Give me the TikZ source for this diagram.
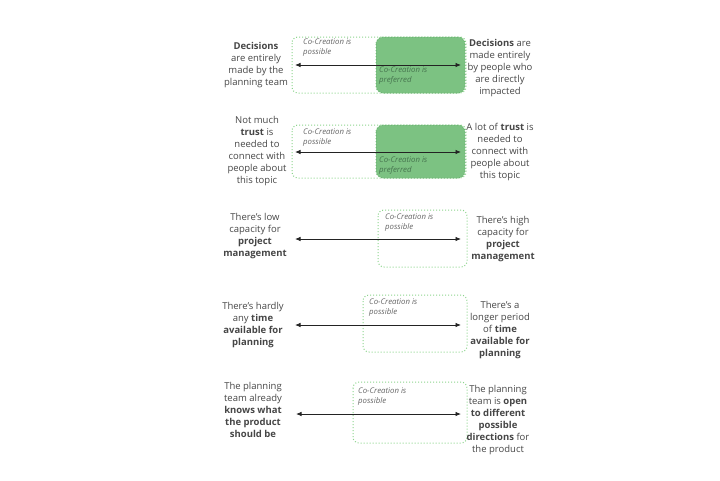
\documentclass[tikz,border=0pt]{standalone}
\usepackage{fontspec}
\setmainfont{Open Sans}
\usepackage{tikz}
\usetikzlibrary{arrows.meta, positioning}
\usepackage{xcolor}
\definecolor{colText}{RGB}{70,70,70}
\definecolor{colLabel}{RGB}{100,100,100}
\definecolor{colPrefText}{RGB}{70,115,78}
\definecolor{colGreen}{RGB}{124,194,130}
\definecolor{colGreenEdge}{RGB}{105,178,112}
\definecolor{colDots}{RGB}{140,212,140}
\definecolor{colArrow}{RGB}{35,35,35}
\tikzset{
    sidetext/.style={align=center, inner sep=0pt, text=colText,
        font=\fontsize{9.5}{12}\selectfont},
    cclabel/.style={align=left, inner sep=0pt, anchor=north west, text=colLabel,
        font=\fontsize{7.8}{10}\selectfont\itshape},
    possiblebox/.style={draw=colDots, dotted, line width=1pt, rounded corners=6pt},
    preferredbox/.style={fill=colGreen, draw=colGreenEdge, dotted, line width=1pt, rounded corners=7pt},
    scalearrow/.style={{Latex[length=5.5pt,width=4.5pt]}-{Latex[length=5.5pt,width=4.5pt]}, colArrow, line width=0.8pt}
}
\newcommand{\ccpossible}{Co-Creation is\\possible}
\newcommand{\ccpreferred}{Co-Creation is\\preferred}

\begin{document}
\begin{tikzpicture}[x=1pt, y=-1pt]
    \useasboundingbox (0,0) rectangle (720,480);

    % row 1: decisions
    \draw[possiblebox] (292,37) rectangle (466,93);
    \draw[preferredbox] (376,37) rectangle (465,93);
    \node[cclabel] (pos1) at (303,39) {\ccpossible};
    \node[cclabel, text=colPrefText] (pref1) at (379,67) {\ccpreferred};
    \node[sidetext] (left1) at (256,65) {\textbf{Decisions}\\are entirely\\made by the\\planning team};
    \node[sidetext] (right1) at (500,68) {\textbf{Decisions} are\\made entirely\\by people who\\are directly\\impacted};
    \coordinate (from1) at (295,65);
    \coordinate (to1) at (461,65);
    \draw[scalearrow] (from1) -- (to1);

    % row 2: trust
    \draw[possiblebox] (292,125) rectangle (466,178);
    \draw[preferredbox] (376,125) rectangle (465,178);
    \node[cclabel] (pos2) at (303,129) {\ccpossible};
    \node[cclabel, text=colPrefText] (pref2) at (379,157) {\ccpreferred};
    \node[sidetext] (left2) at (257,151) {Not much\\\textbf{trust} is\\needed to\\connect with\\people about\\this topic};
    \node[sidetext] (right2) at (500,152) {A lot of \textbf{trust} is\\needed to\\connect with\\people about\\this topic};
    \coordinate (from2) at (295,152);
    \coordinate (to2) at (461,152);
    \draw[scalearrow] (from2) -- (to2);

    % row 3: project management
    \draw[possiblebox] (378,210) rectangle (467,267);
    \node[cclabel] (pos3) at (385,214) {\ccpossible};
    \node[sidetext] (left3) at (255,236) {There’s low\\capacity for\\\textbf{project}\\\textbf{management}};
    \node[sidetext] (right3) at (503,239) {There’s high\\capacity for\\\textbf{project}\\\textbf{management}};
    \coordinate (from3) at (295,239);
    \coordinate (to3) at (461,239);
    \draw[scalearrow] (from3) -- (to3);

    % row 4: time
    \draw[possiblebox] (363,295) rectangle (467,352);
    \node[cclabel] (pos4) at (369,299) {\ccpossible};
    \node[sidetext] (left4) at (253,325) {There’s hardly\\any \textbf{time}\\\textbf{available for}\\\textbf{planning}};
    \node[sidetext] (right4) at (500,330) {There’s a\\longer period\\of \textbf{time}\\\textbf{available for}\\\textbf{planning}};
    \coordinate (from4) at (295,325);
    \coordinate (to4) at (461,325);
    \draw[scalearrow] (from4) -- (to4);

    % row 5: product direction
    \draw[possiblebox] (353,382) rectangle (467,443);
    \node[cclabel] (pos5) at (358,388) {\ccpossible};
    \node[sidetext] (left5) at (253,410) {The planning\\team already\\\textbf{knows what}\\\textbf{the product}\\\textbf{should be}};
    \node[sidetext] (right5) at (498,420) {The planning\\team is \textbf{open}\\\textbf{to different}\\\textbf{possible}\\\textbf{directions} for\\the product};
    \coordinate (from5) at (296,414);
    \coordinate (to5) at (461,414);
    \draw[scalearrow] (from5) -- (to5);
\end{tikzpicture}
\end{document}
